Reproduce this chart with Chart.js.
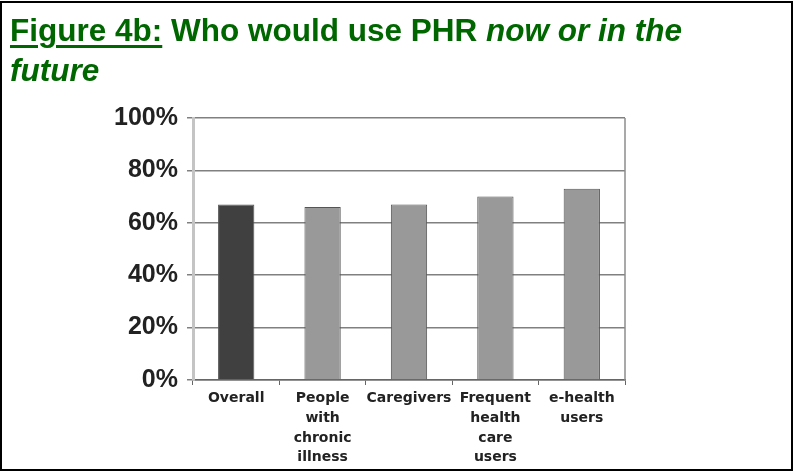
<!DOCTYPE html>
<html>
<head>
<meta charset="utf-8">
<script src="https://cdn.jsdelivr.net/npm/chart.js@4/dist/chart.umd.min.js"></script>
<style>
  body { margin: 0; background: #fff; }
  #frame { position: absolute; left: 0; top: 1px; width: 789px; height: 466px; border: 2px solid #000; }
  #title { position: absolute; left: 10px; top: 10px; width: 720px; font-family: "Liberation Sans", Arial, sans-serif;
    font-weight: bold; font-size: 31.5px; line-height: 40px; color: #006600; }
  #title u { text-decoration-thickness: 3px; text-underline-offset: 4px; }
  #wrap { position: absolute; left: 0; top: 0; width: 794px; height: 476px; }
</style>
</head>
<body>
<div id="frame"></div>
<div id="wrap"><canvas id="chart"></canvas></div>
<div id="title"><u>Figure 4b:</u> Who would use PHR <i>now or in the future</i></div>
<script>
const categories = ['Overall', ['People', 'with', 'chronic', 'illness'], 'Caregivers',
  ['Frequent', 'health', 'care', 'users'], ['e-health', 'users']];
const values = [67, 66, 67, 70, 73];
const barColors = ['#404040', '#999999', '#999999', '#999999', '#999999'];
const yTicks = [0, 20, 40, 60, 80, 100];

const rightBorder = {
  id: 'rightBorder',
  afterDraw(chart) {
    const { ctx, chartArea: a } = chart;
    ctx.save();
    ctx.strokeStyle = '#8c8c8c';
    ctx.lineWidth = 1.5;
    ctx.beginPath();
    ctx.moveTo(a.right, a.top);
    ctx.lineTo(a.right, a.bottom);
    ctx.stroke();
    ctx.restore();
  }
};

new Chart(document.getElementById('chart'), {
  type: 'bar',
  data: {
    labels: categories,
    datasets: [{
      data: values,
      backgroundColor: barColors,
      borderColor: '#555555',
      borderWidth: 1,
      categoryPercentage: 1,
      barPercentage: 0.42
    }]
  },
  options: {
    responsive: true,
    maintainAspectRatio: false,
    animation: false,
    layout: { padding: { left: 113, top: 118, right: 169, bottom: 6 } },
    plugins: { legend: { display: false }, tooltip: { enabled: false } },
    scales: {
      x: {
        afterFit(scale) { scale.height = 90; },
        grid: { offset: true, drawOnChartArea: false, drawTicks: true, tickLength: 5, color: '#666', lineWidth: 1 },
        border: { color: '#666', width: 1.5 },
        ticks: {
          maxRotation: 0, autoSkip: false, padding: 4, color: '#222',
          font: { family: 'DejaVu Sans', weight: 'bold', size: 14, lineHeight: 1.4 }
        }
      },
      y: {
        min: 0, max: 100,
        afterFit(scale) { scale.width = 80; },
        afterBuildTicks(scale) { scale.ticks = yTicks.map(v => ({ value: v })); },
        grid: { color: '#808080', lineWidth: 1.5, drawTicks: true, tickLength: 6 },
        border: { color: '#c4c4c4', width: 3 },
        ticks: {
          padding: 9, color: '#222',
          font: { family: 'Liberation Sans', weight: 'bold', size: 25 },
          callback: v => v + '%'
        }
      }
    }
  },
  plugins: [rightBorder]
});
</script>
</body>
</html>
